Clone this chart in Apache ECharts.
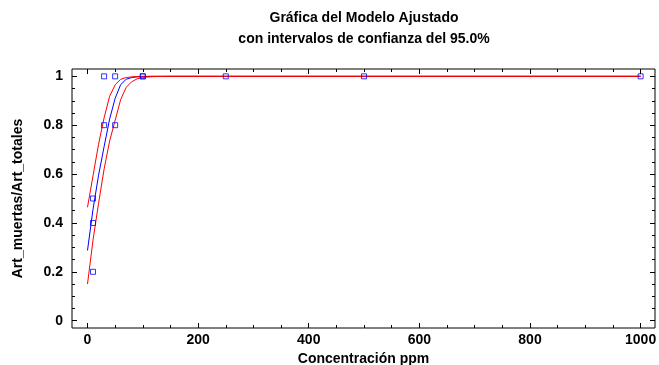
<!DOCTYPE html>
<html>
<head>
<meta charset="utf-8">
<script src="https://cdn.jsdelivr.net/npm/echarts@6/dist/echarts.min.js"></script>
<style>
  html, body { margin: 0; padding: 0; background: #fff; }
  #chart { width: 659px; height: 365px; }
</style>
</head>
<body>
<div id="chart"></div>
<script>
// Observed proportions
const obsConc = [10, 10, 10, 30, 30, 50, 50, 100, 100, 250, 500, 1000];
const obsRatio = [0.2, 0.4, 0.5, 0.8, 1.0, 0.8, 1.0, 1.0, 1.0, 1.0, 1.0, 1.0];

// Fitted model and 95% confidence limits
const curveConc = [0, 10, 20, 30, 40, 50, 60, 70, 80, 90, 100, 120, 150, 200, 400, 600, 800, 1000];
const fitted =     [0.287, 0.456, 0.595, 0.712, 0.825, 0.910, 0.966, 0.988, 0.995, 0.998, 0.999, 1, 1, 1, 1, 1, 1, 1];
const upperLimit = [0.464, 0.593, 0.722, 0.830, 0.918, 0.965, 0.988, 0.995, 0.998, 0.999, 1, 1, 1, 1, 1, 1, 1, 1];
const lowerLimit = [0.150, 0.330, 0.480, 0.620, 0.735, 0.820, 0.905, 0.955, 0.978, 0.990, 0.996, 0.999, 1, 1, 1, 1, 1, 1];

// Axis ticks
const xMajor = [0, 200, 400, 600, 800, 1000];
const xMinor = [50, 100, 150, 250, 300, 350, 450, 500, 550, 650, 700, 750, 850, 900, 950];
const yMajor = [0, 0.2, 0.4, 0.6, 0.8, 1];
const yMinor = [0.05, 0.1, 0.15, 0.25, 0.3, 0.35, 0.45, 0.5, 0.55, 0.65, 0.7, 0.75, 0.85, 0.9, 0.95];

const xRange = { min: -28, max: 1026 };
const yRange = { min: -0.03, max: 1.03 };
const font = 'Liberation Sans, Arial, sans-serif';
const labelStyle = { color: '#000', fontFamily: font, fontWeight: 'bold', fontSize: 14 };

function pairs(xs, ys) { return xs.map((x, i) => [x, ys[i]]); }

function axisDef(grid, pos, range, ticks, len, labelMargin) {
  return {
    type: 'value', gridIndex: grid, position: pos,
    min: range.min, max: range.max,
    axisLine: { show: false, onZero: false },
    axisTick: { show: true, inside: true, length: len, customValues: ticks,
                lineStyle: { color: '#000', width: 1 } },
    axisLabel: labelMargin != null
      ? Object.assign({ show: true, customValues: ticks, margin: labelMargin,
                        formatter: v => String(+(+v).toFixed(2)) }, labelStyle)
      : { show: false },
    splitLine: { show: false }
  };
}

const gridBox = { left: 72, right: 4, top: 69, bottom: 37, containLabel: false, outerBoundsMode: 'none' };

const xAxes = [
  axisDef(0, 'bottom', xRange, xMajor, 5, 5),
  axisDef(0, 'top', xRange, xMajor, 5, null),
  axisDef(1, 'bottom', xRange, xMinor, 3, null),
  axisDef(1, 'top', xRange, xMinor, 3, null)
];
Object.assign(xAxes[0], {
  name: 'Concentración ppm', nameLocation: 'middle', nameGap: 17,
  nameTextStyle: labelStyle
});

const yAxes = [
  axisDef(0, 'left', yRange, yMajor, 5, 9),
  axisDef(0, 'right', yRange, yMajor, 5, null),
  axisDef(1, 'left', yRange, yMinor, 3, null),
  axisDef(1, 'right', yRange, yMinor, 3, null)
];
Object.assign(yAxes[0], {
  name: 'Art_muertas/Art_totales', nameLocation: 'middle', nameGap: 47,
  nameTextStyle: labelStyle
});

const option = {
  animation: false,
  backgroundColor: '#fff',
  title: {
    text: 'Gráfica del Modelo Ajustado\ncon intervalos de confianza del 95.0%',
    left: 364, top: 7.5, padding: 0, textAlign: 'center',
    textStyle: { color: '#000', fontFamily: font, fontWeight: 'bold', fontSize: 14, lineHeight: 21 }
  },
  grid: [
    Object.assign({ show: true, borderColor: '#000', borderWidth: 1, backgroundColor: 'transparent' }, gridBox),
    Object.assign({ show: false }, gridBox)
  ],
  xAxis: xAxes,
  yAxis: yAxes,
  series: [
    {
      type: 'line', xAxisIndex: 0, yAxisIndex: 0, data: pairs(curveConc, fitted),
      showSymbol: false, lineStyle: { color: '#0000ff', width: 1 }, z: 2
    },
    {
      type: 'line', xAxisIndex: 0, yAxisIndex: 0, data: pairs(curveConc, upperLimit),
      showSymbol: false, lineStyle: { color: '#ff0000', width: 1 }, z: 3
    },
    {
      type: 'line', xAxisIndex: 0, yAxisIndex: 0, data: pairs(curveConc, lowerLimit),
      showSymbol: false, lineStyle: { color: '#ff0000', width: 1 }, z: 3
    },
    {
      type: 'scatter', xAxisIndex: 0, yAxisIndex: 0, data: pairs(obsConc, obsRatio),
      symbol: 'rect', symbolSize: 5,
      itemStyle: { color: 'rgba(255,255,255,0)', borderColor: '#0000ff', borderWidth: 1 }, z: 4
    }
  ]
};

echarts.init(document.getElementById('chart'), null, { renderer: 'canvas' }).setOption(option);
</script>
</body>
</html>
